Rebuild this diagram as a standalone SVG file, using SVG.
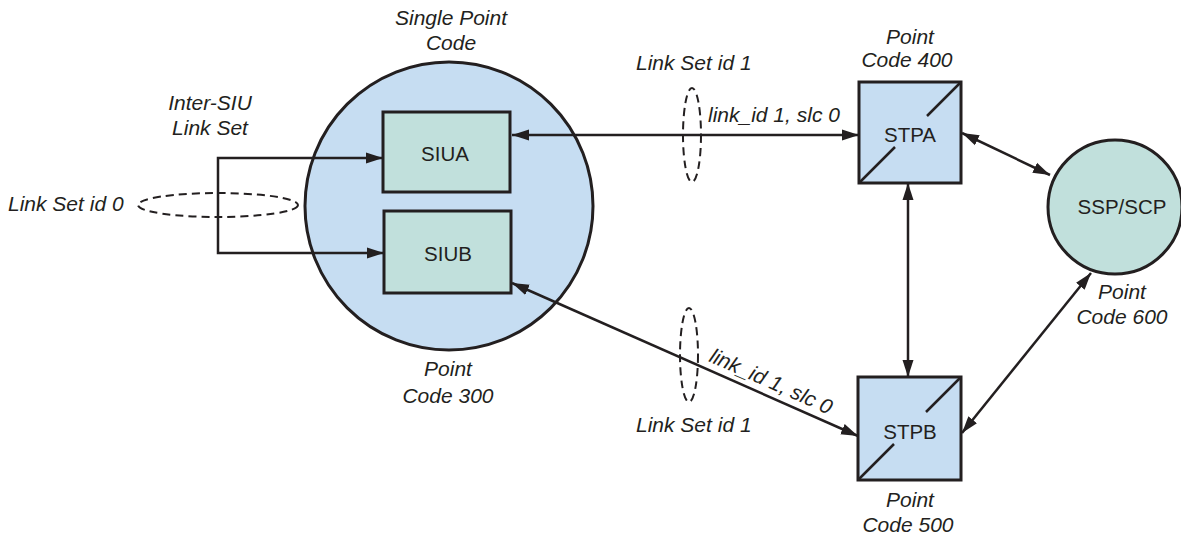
<svg xmlns="http://www.w3.org/2000/svg" width="1181" height="536" viewBox="0 0 1181 536">
  <style>
    .lbl { font-family: "Liberation Sans", Arial, sans-serif; font-size: 21px; font-style: italic; fill: #231f20; }
    .node-txt { font-family: "Liberation Sans", Arial, sans-serif; font-size: 20.5px; fill: #231f20; text-anchor: middle; }
    .mid { text-anchor: middle; }
    .blue { fill: #c6ddf2; stroke: #231f20; stroke-width: 3; }
    .teal { fill: #c1e0dc; stroke: #231f20; stroke-width: 3; }
    .link { fill: none; stroke: #231f20; stroke-width: 2.5; marker-start: url(#arrow); marker-end: url(#arrow); }
    .dash { fill: none; stroke: #231f20; stroke-width: 2; stroke-dasharray: 8 5; }
    .diag { stroke: #231f20; stroke-width: 2.5; }
  </style>
  <defs>
    <marker id="arrow" markerUnits="userSpaceOnUse" markerWidth="18" markerHeight="12" refX="17" refY="6" orient="auto-start-reverse">
      <path d="M0,0.5 L17,6 L0,11.5 z" fill="#231f20"/>
    </marker>
  </defs>

  <rect width="1181" height="536" fill="#ffffff"/>

  <!-- Single point code cluster -->
  <g id="spc">
    <circle class="blue" cx="449" cy="206" r="144"/>
  </g>
  <g id="siua">
    <rect class="teal" x="383" y="112" width="127" height="80"/>
    <text class="node-txt" x="445" y="161">SIUA</text>
  </g>
  <g id="siub">
    <rect class="teal" x="384" y="211" width="127" height="82"/>
    <text class="node-txt" x="448" y="261">SIUB</text>
  </g>

  <!-- Signal transfer points -->
  <g id="stpa">
    <rect class="blue" x="859" y="82" width="102" height="101"/>
    <line class="diag" x1="859" y1="183" x2="895" y2="147"/>
    <line class="diag" x1="927" y1="116" x2="961" y2="82"/>
    <text class="node-txt" x="910" y="142">STPA</text>
  </g>
  <g id="stpb">
    <rect class="blue" x="858" y="377" width="103" height="103"/>
    <line class="diag" x1="858" y1="480" x2="894" y2="444"/>
    <line class="diag" x1="926" y1="412" x2="961" y2="377"/>
    <text class="node-txt" x="910" y="439">STPB</text>
  </g>

  <!-- Service point -->
  <g id="sspscp">
    <circle class="teal" cx="1115" cy="207" r="67"/>
    <text class="node-txt" x="1122" y="214">SSP/SCP</text>
  </g>

  <!-- Links -->
  <g id="connectors">
    <path class="link" d="M383,158 H218 V253 H384"/>
    <line class="link" x1="859" y1="135" x2="512" y2="135"/>
    <line class="link" x1="858" y1="436" x2="512" y2="283"/>
    <line class="link" x1="908" y1="183" x2="908" y2="377"/>
    <line class="link" x1="962" y1="133" x2="1050" y2="175"/>
    <line class="link" x1="962" y1="433" x2="1091" y2="273"/>
  </g>

  <!-- Link set groupings -->
  <g id="linksets">
    <ellipse class="dash" cx="218" cy="205" rx="80" ry="12"/>
    <ellipse class="dash" cx="692" cy="135" rx="9" ry="47"/>
    <ellipse class="dash" cx="689" cy="355" rx="9" ry="47"/>
  </g>

  <!-- Labels -->
  <g id="labels">
    <text class="lbl mid" x="210" y="110">Inter-SIU</text>
    <text class="lbl mid" x="210" y="135">Link Set</text>
    <text class="lbl" x="8" y="211">Link Set id 0</text>

    <text class="lbl mid" x="451" y="25">Single Point</text>
    <text class="lbl mid" x="451" y="50">Code</text>
    <text class="lbl mid" x="448" y="376">Point</text>
    <text class="lbl mid" x="448" y="403">Code 300</text>

    <text class="lbl" x="636" y="70">Link Set id 1</text>
    <text class="lbl" x="708" y="122">link_id 1, slc 0</text>
    <text class="lbl" x="636" y="432">Link Set id 1</text>
    <text class="lbl" x="708" y="361" transform="rotate(24 708 361)">link_id 1, slc 0</text>

    <text class="lbl mid" x="910" y="44">Point</text>
    <text class="lbl mid" x="907" y="67">Code 400</text>
    <text class="lbl mid" x="910" y="507">Point</text>
    <text class="lbl mid" x="908" y="532">Code 500</text>
    <text class="lbl mid" x="1122" y="299">Point</text>
    <text class="lbl mid" x="1122" y="324">Code 600</text>
  </g>
</svg>
